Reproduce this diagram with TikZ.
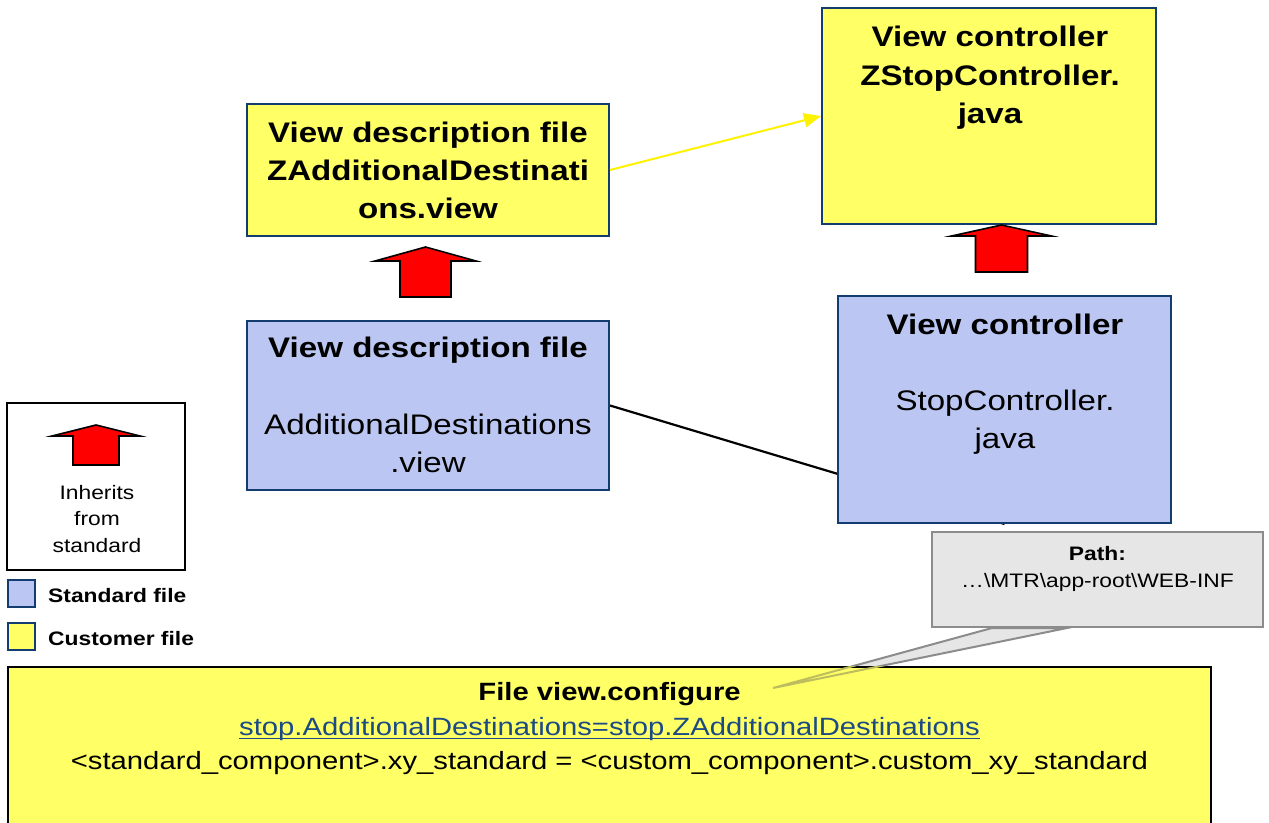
\documentclass[tikz,border=0pt]{standalone}
\usepackage{fontspec}
\setmainfont{Liberation Sans}[FakeStretch=1.17]
\usetikzlibrary{arrows.meta,calc}
\definecolor{custY}{HTML}{FFFF66}
\definecolor{stdB}{HTML}{BBC7F2}
\definecolor{navy}{HTML}{123D6E}
\definecolor{callG}{HTML}{E6E6E6}
\definecolor{callL}{HTML}{8C8C8C}
\definecolor{linkC}{HTML}{1B4A85}
\definecolor{oliveL}{HTML}{BDBD60}
\pgfdeclarelayer{bg}
\pgfdeclarelayer{paper}
\pgfsetlayers{paper,bg,main}
\newcommand\bigB{\fontsize{28.3}{34}\selectfont\bfseries}
\newcommand\bigR{\fontsize{28.3}{34}\selectfont}
\newcommand\midB{\fontsize{25}{30}\selectfont\bfseries}
\newcommand\midR{\fontsize{25}{30}\selectfont}
\newcommand\smB{\fontsize{19.5}{24}\selectfont\bfseries}
\newcommand\smR{\fontsize{19.5}{24}\selectfont}
\newcommand\inhArrow[6]{%
  \draw[inharrow] (#1,#2) -- (#1+#3,#4) -- (#1+#5,#4) -- (#1+#5,#6)
     -- (#1-#5,#6) -- (#1-#5,#4) -- (#1-#3,#4) -- cycle;}
\begin{document}
\begin{tikzpicture}[x=1pt,y=-1pt,
  custbox/.style={draw=navy, fill=custY, line width=2pt, inner sep=0},
  stdbox/.style={draw=navy, fill=stdB, line width=2pt, inner sep=0},
  txt/.style={inner sep=0, anchor=base},
  txtl/.style={inner sep=0, anchor=base west},
  inharrow/.style={draw=black, fill=red, line width=1.6pt, line join=miter},
  yarrow/.style={draw=yellow, line width=2pt, -{Triangle[length=17pt,width=14pt]}},
  plainline/.style={draw=black, line width=2.2pt},
  calloutbox/.style={draw=callL, fill=callG, line width=2pt, inner sep=0},
  swatch/.style={draw=navy, line width=2pt, minimum width=27pt, minimum height=27pt, inner sep=0}]
\useasboundingbox (0,0) rectangle (1269,822);
\begin{pgfonlayer}{paper}
  \fill[white] (0,0) rectangle (1269,822);
\end{pgfonlayer}

% ---- file boxes
\node[custbox, minimum width=362pt, minimum height=132pt] (zview) at (428,170) {};
\node[custbox, minimum width=334pt, minimum height=216pt] (zctrl) at (989,116) {};
\node[stdbox, minimum width=362pt, minimum height=169pt] (sview) at (428,405.5) {};
\node[stdbox, minimum width=333pt, minimum height=227pt] (sctrl) at (1004.5,409.5) {};

% ---- texts in boxes
\node[txt, font=\bigB] (zv1) at (428,142.5) {View description file};
\node[txt, font=\bigB] (zv2) at (428,180.5) {ZAdditionalDestinati};
\node[txt, font=\bigB] (zv3) at (428,218.5) {ons.view};

\node[txt, font=\bigB] (zc1) at (990,46.5) {View controller};
\node[txt, font=\bigB] (zc2) at (990,85) {ZStopController.};
\node[txt, font=\bigB] (zc3) at (990,123.5) {java};

\node[txt, font=\bigB] (sv1) at (428,357.5) {View description file};
\node[txt, font=\bigR] (sv2) at (428,434) {AdditionalDestinations};
\node[txt, font=\bigR] (sv3) at (428,472.5) {.view};

\node[txt, font=\bigB] (sc1) at (1005,334) {View controller};
\node[txt, font=\bigR] (sc2) at (1005,410) {StopController.};
\node[txt, font=\bigR] (sc3) at (1005,448.5) {java};

% ---- connectors
\begin{pgfonlayer}{bg}
  \draw[plainline] (sview.east) -- (sctrl.south);
\end{pgfonlayer}
\draw[yarrow] (zview.east) -- (zctrl.west);

% ---- inheritance block arrows
\inhArrow{425.5}{247}{50.5}{261}{25.5}{297}
\inhArrow{1001.5}{225}{50}{236}{26}{272}

% ---- legend
\node[draw=black, line width=1.6pt, minimum width=178pt, minimum height=167pt, inner sep=0] (legend) at (96,486.5) {};
\inhArrow{96}{425}{44}{436}{23}{465}
\node[txt, font=\smR] (lg1) at (97,499) {Inherits};
\node[txt, font=\smR] (lg2) at (97,525.5) {from};
\node[txt, font=\smR] (lg3) at (97,552) {standard};
\node[swatch, fill=stdB] (swB) at (21.5,593.5) {};
\node[swatch, fill=custY] (swY) at (21.5,636.5) {};
\node[txtl, font=\smB] (swBt) at (48,602) {Standard file};
\node[txtl, font=\smB] (swYt) at (48,645) {Customer file};

% ---- callout
\node[calloutbox, minimum width=331pt, minimum height=95pt] (callout) at (1097.5,579.5) {};
\coordinate (pb1) at ($(callout.south west)+(61,0)$);
\coordinate (pb2) at ($(callout.south west)+(136,0)$);
\coordinate (ptip) at (773,688);
\begin{pgfonlayer}{bg}
  \draw[draw=callL, fill=callG, line width=2pt, line join=miter] (pb1) -- (ptip) -- (pb2) -- cycle;
\end{pgfonlayer}
\node[txt, font=\smB] (cp1) at (1097.5,560) {Path:};
\node[txt, font=\smR] (cp2) at (1097.5,587) {…\textbackslash MTR\textbackslash app-root\textbackslash WEB-INF};

% ---- configuration file box
\node[draw=black, fill=custY, line width=2pt, minimum width=1203pt, minimum height=180pt, inner sep=0] (cfg) at (609.5,757) {};
\begin{scope}
  \clip (cfg.north west) rectangle (cfg.south east);
  \draw[oliveL, line width=2pt] (pb1) -- (ptip) -- (pb2);
\end{scope}
\node[txt, font=\midB] (cf1) at (609.5,700) {File view.configure};
\node[txt, font=\midR, text=linkC] (cf2) at (609.5,735) {stop.AdditionalDestinations=stop.ZAdditionalDestinations};
\draw[linkC, line width=1.3pt] ([yshift=-3.5pt]cf2.base west) -- ([yshift=-3.5pt]cf2.base east);
\node[txt, font=\midR] (cf3) at (609.5,769.5) {<standard\_component>.xy\_standard = <custom\_component>.custom\_xy\_standard};
\end{tikzpicture}
\end{document}
